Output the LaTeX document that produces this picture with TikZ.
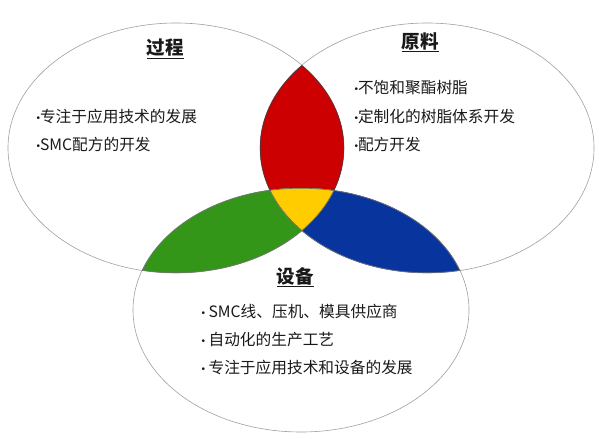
\documentclass[tikz,border=0pt]{standalone}
\usepackage{fontspec}
\setmainfont{Noto Sans CJK SC}
\newfontfamily\dotfont{Liberation Sans}
\usepackage{xcolor}
\definecolor{lensred}{RGB}{204,0,0}
\definecolor{lensgreen}{RGB}{52,150,24}
\definecolor{lensblue}{RGB}{8,52,158}
\definecolor{lensyellow}{RGB}{255,204,0}
\newcommand{\dotitem}{{\dotfont\fontsize{10}{10}\selectfont\raisebox{1pt}{•}}}
\tikzset{
  ringL/.style={x radius=168,y radius=125},
  ringR/.style={x radius=167,y radius=125},
  ringB/.style={x radius=168,y radius=122},
  ring/.style={draw=gray!75,line width=0.6pt},
  lensedge/.style={draw=black!75,line width=1.1pt},
  title/.style={font=\bfseries\fontsize{18.5}{20}\selectfont,text=black!90},
  item/.style={anchor=west,font=\fontsize{15.7}{17}\selectfont,text=black!90}
}
\begin{document}
\begin{tikzpicture}[x=1pt,y=-1pt]
            \useasboundingbox (0,0) rectangle (601,444);
            \coordinate (cL) at (176,148);
            \coordinate (cR) at (427,148);
            \coordinate (cB) at (301,310);
            \draw[ring] (cL) ellipse[ringL];
            \draw[ring] (cR) ellipse[ringR];
            \draw[ring] (cB) ellipse[ringB];
            \begin{scope}
                \clip (cL) ellipse[ringL];
                \clip (cR) ellipse[ringR];
                \fill[lensred] (0,0) rectangle (601,444);
                \draw[lensedge] (cL) ellipse[ringL] (cR) ellipse[ringR];
            \end{scope}
            \begin{scope}
                \clip (cL) ellipse[ringL];
                \clip (cB) ellipse[ringB];
                \fill[lensgreen] (0,0) rectangle (601,444);
                \draw[lensedge,draw=black!55] (cL) ellipse[ringL] (cB) ellipse[ringB];
            \end{scope}
            \begin{scope}
                \clip (cR) ellipse[ringR];
                \clip (cB) ellipse[ringB];
                \fill[lensblue] (0,0) rectangle (601,444);
                \draw[lensedge,draw=black!55] (cR) ellipse[ringR] (cB) ellipse[ringB];
            \end{scope}
            \begin{scope}
                \clip (cL) ellipse[ringL];
                \clip (cR) ellipse[ringR];
                \clip (cB) ellipse[ringB];
                \fill[lensyellow] (0,0) rectangle (601,444);
                \draw[lensedge,draw=black!60] (cL) ellipse[ringL] (cR) ellipse[ringR] (cB) ellipse[ringB];
            \end{scope}
            \node[title] (guocheng) at (165,49) {\underline{过程}};
            \node[title] (yuanliao) at (420,42) {\underline{原料}};
            \node[title] (shebei) at (295,277) {\underline{设备}};
            \node[item] (gc1) at (33,117) {\dotitem 专注于应用技术的发展};
            \node[item] (gc2) at (33,145) {\dotitem SMC配方的开发};
            \node[item] (yl1) at (351,88) {\dotitem 不饱和聚酯树脂};
            \node[item] (yl2) at (351,117) {\dotitem 定制化的树脂体系开发};
            \node[item] (yl3) at (351,145) {\dotitem 配方开发};
            \node[item] (sb1) at (198,312) {\dotitem\ SMC线、压机、模具供应商};
            \node[item] (sb2) at (198,340) {\dotitem\ 自动化的生产工艺};
            \node[item] (sb3) at (198,368) {\dotitem\ 专注于应用技术和设备的发展};
        \end{tikzpicture}
\end{document}
